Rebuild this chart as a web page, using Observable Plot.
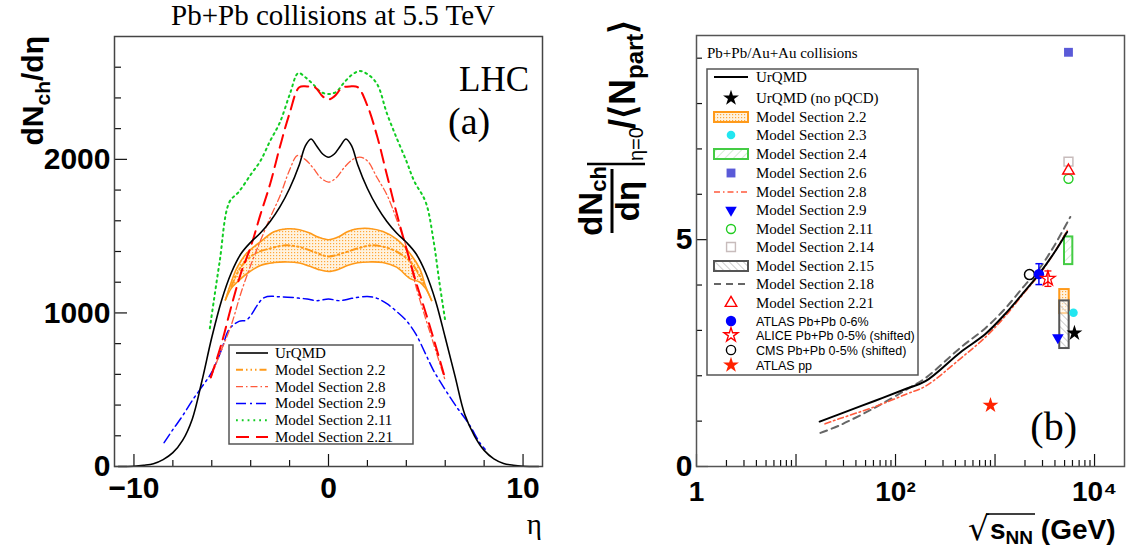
<!DOCTYPE html>
<html><head><meta charset="utf-8">
<script src="https://cdn.jsdelivr.net/npm/d3@7"></script>
<script src="https://cdn.jsdelivr.net/npm/@observablehq/plot@0.6"></script>
<style>
html,body{margin:0;padding:0;background:#fff;}
#wrap{position:relative;width:1130px;height:550px;overflow:hidden;background:#fff;}
#pa,#pb{position:absolute;top:0;}
#pa{left:0;} #pb{left:570px;}
#ov{position:absolute;left:0;top:0;pointer-events:none;}
</style></head><body>
<div id="wrap"><div id="pa"></div><div id="pb"></div><svg id="ov" width="1130" height="550"></svg></div>
<script>
// ---------- Panel (a): dNch/deta vs eta, Pb+Pb 5.5 TeV ----------
const a_urqmd = [[-10.8,0],[-10,2],[-9.5,8],[-9,18],[-8.5,45],[-8,90],[-7.5,170],[-7,310],[-6.5,560],[-6,840],[-5.5,1080],[-5,1260],[-4.5,1385],[-4,1460],[-3.5,1520],[-3,1595],[-2.5,1690],[-2,1810],[-1.5,1965],[-1.2,2085],[-0.9,2133],[-0.6,2085],[-0.3,2035],[0,2014],[0.3,2035],[0.6,2085],[0.9,2133],[1.2,2085],[1.5,1965],[2,1810],[2.5,1690],[3,1595],[3.5,1520],[4,1460],[4.5,1385],[5,1260],[5.5,1080],[6,840],[6.5,590],[7,340],[7.5,200],[8,105],[8.5,50],[9,20],[9.5,8],[10,2],[10.8,0]];
const a_m22_center = [[-5.0,1170],[-4.5,1300],[-3.8,1385],[-3,1420],[-2.2,1440],[-1.5,1430],[-0.8,1400],[0,1368],[0.8,1392],[1.5,1420],[2.2,1440],[3,1425],[3.7,1385],[4.3,1320],[4.9,1190]];
const a_m22_band = [[-5.3,1085,1085],[-5.0,1160,1200],[-4.7,1200,1295],[-4.2,1255,1390],[-3.5,1309,1463],[-2.8,1328,1528],[-2.1,1332,1548],[-1.5,1325,1542],[-1.0,1305,1522],[-0.5,1282,1492],[0,1270,1477],[0.5,1283,1495],[1.0,1310,1530],[1.5,1327,1548],[2.1,1332,1550],[2.8,1328,1530],[3.5,1298,1480],[4.2,1223,1386],[4.7,1200,1285],[5.0,1158,1170],[5.3,1081,1081]];
const a_m28 = [[-6.05,580],[-5.5,760],[-5,920],[-4.5,1130],[-4,1310],[-3.5,1470],[-3,1620],[-2.5,1760],[-2,1930],[-1.6,2025],[-1.2,2000],[-0.8,1945],[-0.4,1880],[0,1852],[0.4,1880],[0.8,1945],[1.2,1995],[1.6,2015],[2,1990],[2.5,1880],[3,1770],[3.5,1610],[4,1430],[4.5,1170],[5,960],[5.5,760],[6,560]];
const a_m29 = [[-8.45,155],[-8,240],[-7.5,330],[-7,430],[-6.5,520],[-6,614],[-5.5,760],[-5.1,895],[-4.6,945],[-4.2,955],[-3.3,1100],[-2.5,1105],[-1.8,1100],[-1.1,1090],[-0.6,1080],[0,1090],[0.6,1080],[1.2,1095],[2,1107],[2.5,1095],[3,1060],[3.5,1010],[4,950],[4.5,860],[5,730],[5.4,625],[6,500],[6.6,385],[7.2,280],[7.8,150],[8.05,112]];
const a_m211 = [[-6.1,900],[-5.6,1330],[-5.1,1720],[-4.6,1790],[-4,1900],[-3.5,1990],[-3,2120],[-2.5,2240],[-2,2420],[-1.55,2562],[-1.2,2535],[-0.8,2490],[-0.4,2440],[0,2425],[0.4,2440],[0.8,2500],[1.2,2550],[1.6,2575],[2,2555],[2.5,2490],[3,2300],[3.5,2140],[4,1990],[4.4,1860],[5,1720],[5.4,1470],[5.7,1200],[6,950]];
const a_m221 = [[-6.05,580],[-5.5,800],[-5,1040],[-4.5,1260],[-4,1430],[-3.5,1640],[-3,1840],[-2.5,2080],[-2,2300],[-1.5,2470],[-1.1,2475],[-0.7,2470],[-0.3,2410],[0,2390],[0.3,2410],[0.7,2465],[1.1,2475],[1.5,2470],[2,2350],[2.5,2150],[3,1900],[3.5,1650],[4,1420],[4.5,1200],[5,1000],[5.5,790],[6,570]];
const a_xMajor = [-10, 0, 10];
const a_xMinor = [-8, -6, -4, -2, 2, 4, 6, 8];
const a_yMajor = [0, 1000, 2000];
const a_yMinor = [200, 400, 600, 800, 1200, 1400, 1600, 1800, 2200, 2400, 2600];

// ---------- Panel (b): dNch/deta|eta=0 / <Npart> vs sqrt(sNN) ----------
const b_urqmd = [[17.3,0.99],[27,1.15],[62.4,1.45],[130,1.72],[200,1.88],[450,2.52],[800,2.92],[1250,3.35],[2000,3.87],[2760,4.24],[3900,4.70],[5300,5.17]];
const b_m28 = [[19.6,0.94],[27,1.05],[62.4,1.32],[130,1.6],[200,1.77],[450,2.38],[800,2.85],[1250,3.3],[2000,3.85],[2760,4.22],[3900,4.7],[5300,5.2]];
const b_m218 = [[17.6,0.74],[27,0.9],[62.4,1.3],[130,1.7],[200,1.95],[450,2.62],[800,3.05],[1250,3.47],[2000,4.0],[2760,4.35],[3900,4.85],[5700,5.5]];
const b_urqmdNoPQCD = [[6280, 2.94]];
const b_m23 = [[6140, 3.39]];
const b_m26 = [[5470, 9.13]];
const b_m29 = [[4280, 2.84]];
const b_m211 = [[5470, 6.34]];
const b_m214 = [[5470, 6.72]];
const b_m221 = [[5470, 6.52]];
const b_atlasPbPb = [[2760, 4.24, 0.23]];
const b_alicePbPb = [[3400, 4.14, 0.17]];
const b_cmsPbPb = [[2220, 4.23]];
const b_atlasPP = [[900, 1.35]];
const b_box22 = [[4470, 5560, 3.37, 3.90]];
const b_box24 = [[4990, 6050, 4.45, 5.06]];
const b_box215 = [[4470, 5560, 2.60, 3.65]];
const b_xMajor = [1, 10, 100, 1000, 10000];
const b_xMinor = [2,3,4,5,6,7,8,9,20,30,40,50,60,70,80,90,200,300,400,500,600,700,800,900,2000,3000,4000,5000,6000,7000,8000,9000];
const b_xLabelValues = [1, 100, 10000];
const b_xLabels = ["1", "10²", "10⁴"];
const b_yMajor = [0, 5];
const b_yMinor = [1, 2, 3, 4, 6, 7, 8, 9];

const SANS = "'Liberation Sans', Arial, Helvetica, sans-serif";
const SERIF = "'Liberation Serif', 'Times New Roman', serif";
const P = a => a.map(([x, y]) => ({x, y}));
const bandRows = a_m22_band.map(([x, lo, hi]) => ({x, lo, hi}));

// patterns (shared, defined in overlay svg)
const ov = d3.select("#ov");
ov.append("defs").html(`
  <pattern id="patOrange" width="3" height="3" patternUnits="userSpaceOnUse">
    <rect width="3" height="3" fill="#fff3e0"/><rect x="0" y="0" width="1.2" height="1.2" fill="#ffa83a"/></pattern>
  <pattern id="patGreen" width="6" height="6" patternUnits="userSpaceOnUse" patternTransform="rotate(45)">
    <rect width="6" height="6" fill="#fff"/><line x1="0" y1="0" x2="0" y2="6" stroke="#a6dca6" stroke-width="1"/></pattern>
  <pattern id="patGray" width="5" height="5" patternUnits="userSpaceOnUse" patternTransform="rotate(-45)">
    <rect width="5" height="5" fill="#fff" fill-opacity="0.55"/><line x1="0" y1="0" x2="0" y2="5" stroke="#9a9a9a" stroke-width="1"/></pattern>
`);

const tickStyle = {stroke: "#111", strokeWidth: 1.2};
const labStyle = {fontSize: 30, fontWeight: "bold", fontFamily: SANS, fill: "#000"};

const chartA = Plot.plot({
  width: 560, height: 550,
  marginLeft: 114, marginRight: 18, marginTop: 36, marginBottom: 84,
  style: {background: "transparent", overflow: "visible"},
  x: {domain: [-11, 11]},
  y: {domain: [0, 2800]},
  marks: [
    Plot.areaY(bandRows, {x: "x", y1: "lo", y2: "hi", fill: "url(#patOrange)", curve: "catmull-rom"}),
    Plot.line(bandRows, {x: "x", y: "lo", stroke: "#ff9a1a", strokeWidth: 1.6, curve: "catmull-rom"}),
    Plot.line(bandRows, {x: "x", y: "hi", stroke: "#ff9a1a", strokeWidth: 1.6, curve: "catmull-rom"}),
    Plot.line(P(a_m22_center), {x: "x", y: "y", stroke: "#ff9a1a", strokeWidth: 2, strokeDasharray: "7,3,1.5,3,1.5,3,1.5,3", curve: "catmull-rom"}),
    Plot.line(P(a_m29), {x: "x", y: "y", stroke: "#0000ff", strokeWidth: 1.5, strokeDasharray: "10,4,2,4", curve: "catmull-rom"}),
    Plot.line(P(a_m28), {x: "x", y: "y", stroke: "#ff5a3c", strokeWidth: 1.3, strokeDasharray: "7,3,1.5,3", curve: "catmull-rom"}),
    Plot.line(P(a_m211), {x: "x", y: "y", stroke: "#11cc22", strokeWidth: 2, strokeDasharray: "1.8,4", curve: "catmull-rom"}),
    Plot.line(P(a_m221), {x: "x", y: "y", stroke: "#ff0000", strokeWidth: 2, strokeDasharray: "13,7", curve: "catmull-rom"}),
    Plot.line(P(a_urqmd), {x: "x", y: "y", stroke: "#000", strokeWidth: 1.6, curve: "catmull-rom"}),
    Plot.axisX({ticks: a_xMajor, tickSize: -12, fill: "none", label: null, ...tickStyle}),
    Plot.axisX({ticks: a_xMinor, tickSize: -6, fill: "none", label: null, ...tickStyle}),
    Plot.axisX({ticks: a_xMajor, tickSize: 0, tickPadding: 10, label: null, tickFormat: d => d < 0 ? "−" + Math.abs(d) : String(d), ...labStyle}),
    Plot.axisY({ticks: a_yMajor, tickSize: -13, fill: "none", label: null, ...tickStyle}),
    Plot.axisY({ticks: a_yMinor, tickSize: -7, fill: "none", label: null, ...tickStyle}),
    Plot.axisY({ticks: a_yMajor, tickSize: 0, tickPadding: 4, label: null, tickFormat: d => String(d), ...labStyle}),
    Plot.frame({stroke: "#444", strokeWidth: 1.5})
  ]
});
document.getElementById("pa").appendChild(chartA);

const capSym = {draw(ctx) { ctx.moveTo(-3.5, 0); ctx.lineTo(3.5, 0); }};
const chartB = Plot.plot({
  width: 560, height: 550,
  marginLeft: 126, marginRight: 6, marginTop: 35, marginBottom: 84,
  style: {background: "transparent", overflow: "visible"},
  x: {type: "log", domain: [1, 20000]},
  y: {domain: [0, 9.5]},
  marks: [
    Plot.rect(b_box22, {x1: d => d[0], x2: d => d[1], y1: d => d[2], y2: d => d[3], fill: "url(#patOrange)", stroke: "#ff9a1a", strokeWidth: 2}),
    Plot.rect(b_box215, {x1: d => d[0], x2: d => d[1], y1: d => d[2], y2: d => d[3], fill: "url(#patGray)", stroke: "#555", strokeWidth: 2}),
    Plot.rect(b_box24, {x1: d => d[0], x2: d => d[1], y1: d => d[2], y2: d => d[3], fill: "url(#patGreen)", stroke: "#44cc44", strokeWidth: 2}),
    Plot.line(P(b_m218), {x: "x", y: "y", stroke: "#666", strokeWidth: 2, strokeDasharray: "7,5", curve: "catmull-rom"}),
    Plot.line(P(b_m28), {x: "x", y: "y", stroke: "#ff5a3c", strokeWidth: 1.6, strokeDasharray: "6,3,1.5,3", curve: "catmull-rom"}),
    Plot.line(P(b_urqmd), {x: "x", y: "y", stroke: "#000", strokeWidth: 2, curve: "catmull-rom"}),
    Plot.ruleX(b_atlasPbPb, {x: d => d[0], y1: d => d[1] - d[2], y2: d => d[1] + d[2], stroke: "#0000ff", strokeWidth: 1.5}),
    Plot.dot(b_atlasPbPb, {x: d => d[0], y: d => d[1] - d[2], symbol: capSym, stroke: "#0000ff", strokeWidth: 1.5}),
    Plot.dot(b_atlasPbPb, {x: d => d[0], y: d => d[1] + d[2], symbol: capSym, stroke: "#0000ff", strokeWidth: 1.5}),
    Plot.ruleX(b_alicePbPb, {x: d => d[0], y1: d => d[1] - d[2], y2: d => d[1] + d[2], stroke: "#ff0000", strokeWidth: 1.3}),
    Plot.dot(b_alicePbPb, {x: d => d[0], y: d => d[1] - d[2], symbol: capSym, stroke: "#ff0000", strokeWidth: 1.3}),
    Plot.dot(b_alicePbPb, {x: d => d[0], y: d => d[1] + d[2], symbol: capSym, stroke: "#ff0000", strokeWidth: 1.3}),
    Plot.dot(b_cmsPbPb, {x: d => d[0], y: d => d[1], r: 5, stroke: "#000", fill: "#fff", strokeWidth: 1.5}),
    Plot.dot(b_atlasPbPb, {x: d => d[0], y: d => d[1], r: 5.2, fill: "#0000ff"}),
    Plot.dot(b_alicePbPb, {x: d => d[0], y: d => d[1], r: 4.6, symbol: "star", stroke: "#ff0000", fill: "none", strokeWidth: 1.3}),
    Plot.dot(b_atlasPP, {x: d => d[0], y: d => d[1], r: 5, symbol: "star", fill: "#ff2200"}),
    Plot.dot(b_m26, {x: d => d[0], y: d => d[1], r: 5, symbol: "square", fill: "#5a5ad8"}),
    Plot.dot(b_m214, {x: d => d[0], y: d => d[1], r: 5, symbol: "square", stroke: "#c8bcbc", fill: "#fff", strokeWidth: 1.5}),
    Plot.dot(b_m211, {x: d => d[0], y: d => d[1], r: 4.5, stroke: "#22cc22", fill: "none", strokeWidth: 1.4}),
    Plot.dot(b_m221, {x: d => d[0], y: d => d[1], r: 4.3, symbol: "triangle", stroke: "#ff0000", fill: "none", strokeWidth: 1.4}),
    Plot.dot(b_m23, {x: d => d[0], y: d => d[1], r: 4.3, fill: "#22e6f0"}),
    Plot.dot(b_urqmdNoPQCD, {x: d => d[0], y: d => d[1], r: 5, symbol: "star", fill: "#000"}),
    Plot.dot(b_m29, {x: d => d[0], y: d => d[1], r: 4.3, symbol: "triangle", rotate: 180, fill: "#0000ff"}),
    Plot.axisX({ticks: b_xMajor, tickSize: -12, fill: "none", label: null, ...tickStyle}),
    Plot.axisX({ticks: b_xMinor, tickSize: -6, fill: "none", label: null, ...tickStyle}),
    Plot.axisX({ticks: b_xLabelValues, tickSize: 0, tickPadding: 15, label: null, tickFormat: d => b_xLabels[b_xLabelValues.indexOf(d)], ...labStyle, fontSize: 28}),
    Plot.axisY({ticks: b_yMajor, tickSize: -12, fill: "none", label: null, ...tickStyle}),
    Plot.axisY({ticks: b_yMinor, tickSize: -6, fill: "none", label: null, ...tickStyle}),
    Plot.axisY({ticks: b_yMajor, tickSize: 0, tickPadding: 4, label: null, tickFormat: d => String(d), ...labStyle}),
    Plot.frame({stroke: "#555", strokeWidth: 1.5})
  ]
});
document.getElementById("pb").appendChild(chartB);

// ---------- overlay text: titles, axis labels, legends ----------
function txt(x, y, s, o = {}) {
  return ov.append("text").attr("x", x).attr("y", y).text(s)
    .attr("font-family", o.family || SERIF).attr("font-size", o.size || 15)
    .attr("font-weight", o.weight || "normal").attr("text-anchor", o.anchor || "start")
    .attr("fill", o.fill || "#000");
}
txt(333, 25, "Pb+Pb collisions at 5.5 TeV", {size: 29, anchor: "middle"});
txt(529, 91, "LHC", {size: 35, anchor: "end"});
txt(448, 134, "(a)", {size: 38});
txt(542, 534, "η", {size: 29, anchor: "end"});
txt(1077, 440, "(b)", {size: 40, anchor: "end"});
txt(707, 58, "Pb+Pb/Au+Au collisions", {size: 15});

// y label (a)
{
  const t = ov.append("text").attr("transform", "translate(43,36) rotate(-90)")
    .attr("text-anchor", "end").attr("font-family", SANS).attr("font-weight", "bold").attr("font-size", 30);
  t.append("tspan").text("dN");
  t.append("tspan").text("ch").attr("font-size", 21).attr("dy", 7);
  t.append("tspan").text("/dη").attr("dy", -7);
}
// y label (b)
{
  const g = ov.append("g").attr("transform", "translate(575,233) rotate(-90)")
    .attr("font-family", SANS).attr("font-weight", "bold").attr("fill", "#000");
  const n = g.append("text").attr("x", 32).attr("y", 27).attr("text-anchor", "middle").attr("font-size", 33);
  n.append("tspan").text("dN");
  n.append("tspan").text("ch").attr("font-size", 22).attr("dy", 4);
  g.append("line").attr("x1", 0).attr("x2", 64).attr("y1", 37).attr("y2", 37).attr("stroke", "#000").attr("stroke-width", 3);
  g.append("text").attr("x", 32).attr("y", 64).attr("text-anchor", "middle").attr("font-size", 33).text("dη");
  g.append("line").attr("x1", 69).attr("x2", 69).attr("y1", 12).attr("y2", 70).attr("stroke", "#000").attr("stroke-width", 2.5);
  g.append("text").attr("x", 72).attr("y", 68).attr("font-size", 20).attr("font-weight", "normal").attr("font-family", SANS).text("η=0");
  const r = g.append("text").attr("x", 104).attr("y", 60).attr("font-size", 36);
  r.append("tspan").text("/⟨N");
  r.append("tspan").text("part").attr("font-size", 24).attr("dy", 8);
  r.append("tspan").text("⟩").attr("dy", -8).attr("font-size", 36);
}
// x label (b)
{
  txt(968, 540, "√", {size: 33, family: "'DejaVu Sans', sans-serif"});
  ov.append("line").attr("x1", 986).attr("x2", 1035).attr("y1", 514).attr("y2", 514).attr("stroke", "#000").attr("stroke-width", 1.5);
  const t = ov.append("text").attr("x", 990).attr("y", 539).attr("font-family", SANS).attr("font-weight", "bold").attr("font-size", 28);
  t.append("tspan").text("s");
  t.append("tspan").text("NN").attr("font-size", 19).attr("dy", 5);
  t.append("tspan").text(" (GeV)").attr("dy", -5).attr("font-size", 28);
}

// legend helpers
function sample(g, x0, x1, y, it) {
  const cx = (x0 + x1) / 2;
  if (it.kind === "line") {
    g.append("line").attr("x1", x0).attr("x2", x1).attr("y1", y).attr("y2", y)
      .attr("stroke", it.color).attr("stroke-width", it.w || 1.6).attr("stroke-dasharray", it.dash || null);
  } else if (it.kind === "box") {
    g.append("rect").attr("x", x0).attr("y", y - 5).attr("width", x1 - x0).attr("height", 10)
      .attr("fill", it.fill).attr("stroke", it.color).attr("stroke-width", 2);
  } else {
    const types = {circle: d3.symbolCircle, square: d3.symbolSquare, star: d3.symbolStar, triangle: d3.symbolTriangle};
    g.append("path").attr("d", d3.symbol(types[it.sym], Math.PI * it.r * it.r)())
      .attr("transform", `translate(${cx},${y}) rotate(${it.rot || 0})`)
      .attr("fill", it.fillc || "none").attr("stroke", it.strokec || "none").attr("stroke-width", 1.4);
  }
}
// legend (a)
{
  const items = [
    {label: "UrQMD", kind: "line", color: "#000"},
    {label: "Model Section 2.2", kind: "line", color: "#ff9a1a", w: 2, dash: "7,3,1.5,3,1.5,3,1.5,3"},
    {label: "Model Section 2.8", kind: "line", color: "#ff5a3c", w: 1.3, dash: "7,3,1.5,3"},
    {label: "Model Section 2.9", kind: "line", color: "#0000ff", w: 1.5, dash: "10,4,2,4"},
    {label: "Model Section 2.11", kind: "line", color: "#11cc22", w: 2, dash: "1.8,4"},
    {label: "Model Section 2.21", kind: "line", color: "#ff0000", w: 2, dash: "13,7"}
  ];
  const g = ov.append("g");
  g.append("rect").attr("x", 229).attr("y", 345).attr("width", 184).attr("height", 99)
    .attr("fill", "#fff").attr("stroke", "#555").attr("stroke-width", 1.5);
  items.forEach((it, i) => {
    const y = 353 + i * 16.8;
    sample(g, 236, 268, y, it);
    g.append("text").attr("x", 275).attr("y", y + 5).attr("font-family", SERIF).attr("font-size", 15).text(it.label);
  });
}
// legend (b)
{
  const items = [
    {label: "UrQMD", kind: "line", color: "#000", w: 2},
    {label: "UrQMD (no pQCD)", sym: "star", r: 5, fillc: "#000"},
    {label: "Model Section 2.2", kind: "box", color: "#ff9a1a", fill: "url(#patOrange)"},
    {label: "Model Section 2.3", sym: "circle", r: 4.3, fillc: "#22e6f0"},
    {label: "Model Section 2.4", kind: "box", color: "#44cc44", fill: "url(#patGreen)"},
    {label: "Model Section 2.6", sym: "square", r: 5, fillc: "#5a5ad8"},
    {label: "Model Section 2.8", kind: "line", color: "#ff5a3c", w: 1.6, dash: "6,3,1.5,3"},
    {label: "Model Section 2.9", sym: "triangle", r: 4.3, fillc: "#0000ff", rot: 180},
    {label: "Model Section 2.11", sym: "circle", r: 4.5, strokec: "#22cc22"},
    {label: "Model Section 2.14", sym: "square", r: 5, strokec: "#c8bcbc", fillc: "#fff"},
    {label: "Model Section 2.15", kind: "box", color: "#555", fill: "url(#patGray)"},
    {label: "Model Section 2.18", kind: "line", color: "#666", w: 2, dash: "7,5"},
    {label: "Model Section 2.21", sym: "triangle", r: 4.3, strokec: "#ff0000"},
    {label: "ATLAS Pb+Pb 0-6%", sym: "circle", r: 5.2, fillc: "#0000ff", sans: true},
    {label: "ALICE Pb+Pb 0-5% (shifted)", sym: "star", r: 4.4, strokec: "#ff0000", sans: true},
    {label: "CMS Pb+Pb 0-5% (shifted)", sym: "circle", r: 4.6, strokec: "#000", sans: true},
    {label: "ATLAS pp", sym: "star", r: 5, fillc: "#ff2200", sans: true}
  ];
  const rowY = [77, 98, 117, 135, 154, 173, 192, 210, 229, 247, 266, 284, 303, 321, 335, 350, 365];
  const g = ov.append("g");
  g.append("rect").attr("x", 707).attr("y", 69).attr("width", 211).attr("height", 306)
    .attr("fill", "#fff").attr("stroke", "#555").attr("stroke-width", 1.5);
  items.forEach((it, i) => {
    const y = rowY[i];
    sample(g, 714, 748, y, it);
    g.append("text").attr("x", 756).attr("y", y + (it.sans ? 4.5 : 5))
      .attr("font-family", it.sans ? SANS : SERIF).attr("font-size", it.sans ? 12.5 : 15).text(it.label);
  });
}
</script></body></html>
